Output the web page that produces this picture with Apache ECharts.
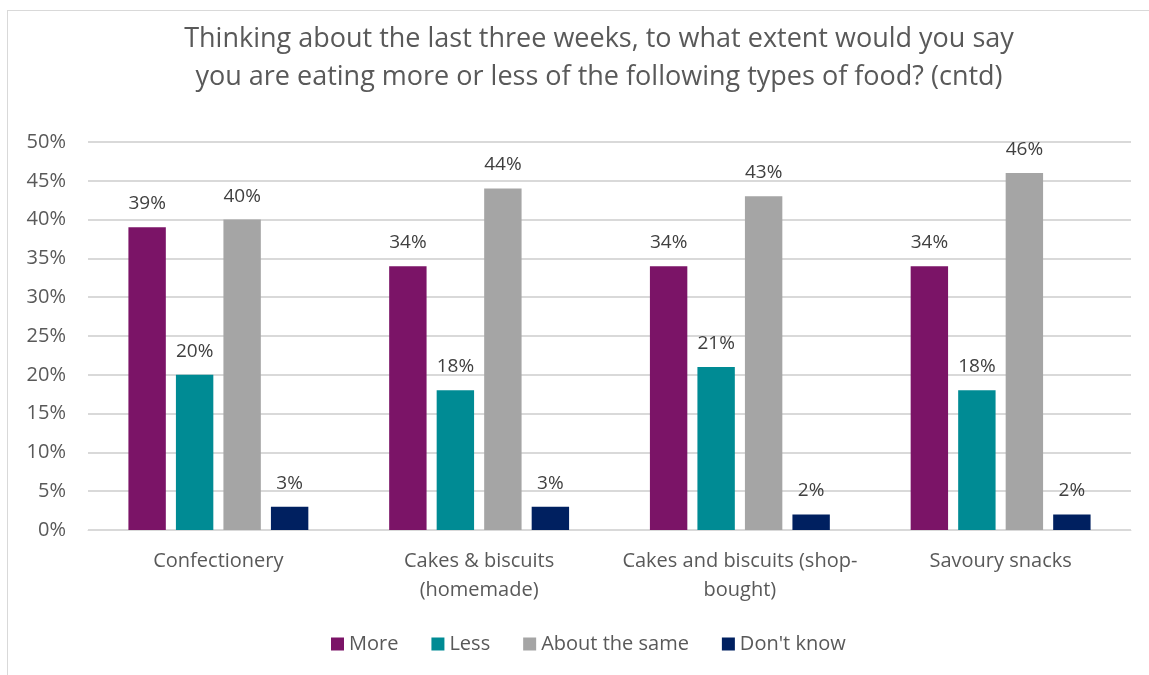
<!DOCTYPE html>
<html>
<head>
<meta charset="utf-8">
<script src="https://cdn.jsdelivr.net/npm/echarts@6/dist/echarts.min.js"></script>
<style>
    html, body { margin: 0; padding: 0; background: #fff; }
    #main { width: 1149px; height: 675px; }
    #frame { position: absolute; left: 7px; top: 10px; width: 1160px; height: 700px; border: 1px solid #d9d9d9; pointer-events: none; }
</style>
</head>
<body>
<div id="main"></div>
<div id="frame"></div>
<script>
const categories = ['Confectionery', 'Cakes & biscuits\n(homemade)', 'Cakes and biscuits (shop-\nbought)', 'Savoury snacks'];
const seriesNames = ['More', 'Less', 'About the same', "Don't know"];
const moreValues = [39, 34, 34, 34];
const lessValues = [20, 18, 21, 18];
const sameValues = [40, 44, 43, 46];
const dontKnowValues = [3, 3, 2, 2];
const colors = ['#7b1467', '#008b94', '#a5a5a5', '#002060'];

function getOption() {
    const allValues = [moreValues, lessValues, sameValues, dontKnowValues];
    return {
        textStyle: { fontFamily: 'Open Sans' },
        title: {
            text: 'Thinking about the last three weeks, to what extent would you say\nyou are eating more or less of the following types of food? (cntd)',
            left: 594,
            textAlign: 'center',
            top: 15,
            textStyle: {
                fontSize: 27,
                fontWeight: 'normal',
                color: '#595959',
                lineHeight: 38
            }
        },
        legend: {
            bottom: 16,
            left: 326,
            itemWidth: 13,
            itemHeight: 13,
            itemGap: 33,
            icon: 'rect',
            textStyle: { fontSize: 20, color: '#595959' },
            data: seriesNames
        },
        grid: {
            left: 88,
            right: 18,
            top: 142,
            bottom: 145
        },
        xAxis: {
            type: 'category',
            data: categories,
            axisTick: { show: false },
            axisLine: { lineStyle: { color: '#d9d9d9', width: 1 } },
            axisLabel: {
                fontSize: 20,
                color: '#595959',
                margin: 17,
                lineHeight: 29,
                interval: 0
            }
        },
        yAxis: {
            type: 'value',
            min: 0,
            max: 50,
            interval: 5,
            axisLabel: {
                formatter: '{value}%',
                fontSize: 20,
                color: '#595959',
                margin: 22
            },
            splitLine: { lineStyle: { color: '#d9d9d9', width: 2 } }
        },
        series: allValues.map(function (vals, i) {
            return {
                name: seriesNames[i],
                type: 'bar',
                data: vals,
                barGap: '27%',
                barCategoryGap: '31%',
                itemStyle: { color: colors[i] },
                label: {
                    show: true,
                    position: 'top',
                    distance: 14,
                    formatter: '{c}%',
                    fontSize: 19,
                    color: '#404040'
                }
            };
        })
    };
}

function draw() {
    let dom = document.getElementById('main');
    let chart = echarts.init(dom, null, { renderer: 'canvas' });
    chart.setOption(getOption());
}

draw();
</script>
</body>
</html>
